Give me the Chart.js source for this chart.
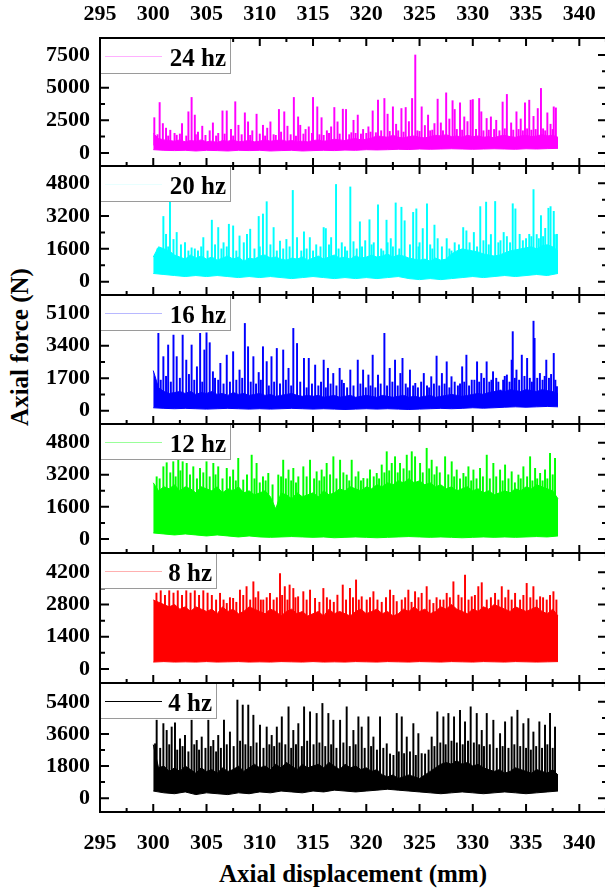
<!DOCTYPE html>
<html><head><meta charset="utf-8">
<script src="https://cdn.jsdelivr.net/npm/chart.js@4.4.1/dist/chart.umd.min.js"></script>
<style>
html,body{margin:0;padding:0;background:#fff;}
#wrap{position:relative;width:605px;height:890px;overflow:hidden;background:#fff;}
canvas{position:absolute;left:0;}
.ytitle{position:absolute;left:20px;top:347px;transform:translate(-50%,-50%) rotate(-90deg);font:bold 25px "Liberation Serif";white-space:nowrap;color:#000;}
.xtitle{position:absolute;left:353px;top:874px;transform:translate(-50%,-50%);font:bold 25px "Liberation Serif";white-space:nowrap;color:#000;}
</style></head>
<body><div id="wrap">
<div class="ytitle">Axial force (N)</div>
<div class="xtitle">Axial displacement (mm)</div>
</div>
<script>
// ---------------- DATA ----------------
const xTicks = [295, 300, 305, 310, 315, 320, 325, 330, 335, 340];
const seriesLabels = ['24 hz', '20 hz', '16 hz', '12 hz', '8 hz', '4 hz'];
const yTicks24 = [0, 2500, 5000, 7500];
const yTicks20 = [0, 1600, 3200, 4800];
const yTicks16 = [0, 1700, 3400, 5100];
const yTicks12 = [0, 1600, 3200, 4800];
const yTicks8 = [0, 1400, 2800, 4200];
const yTicks4 = [0, 1800, 3600, 5400];

// upper edge of the dense band, sampled every 0.5 mm from 300 mm
const bandTop24 = [1500,1100,1000,950,900,1000,850,950,900,1000,
 850,900,800,950,900,1000,850,900,950,850,
 900,1000,900,950,1000,900,950,850,900,850,
 950,1000,900,950,1050,1000,950,1050,1100,1000,
 1050,1150,1300,1250,1200,1350,1200,1150,1250,1300,
 1200,1150,1250,1350,1300,1400,1250,1300,1200,1350,
 1250,1300,1200,1250,1150,1300,1350,1250,1200,1300,
 1350,1250,1300,1400,1300,1350,1200];
// lower edge of the dense band, sampled every 1 mm from 300 mm
const bandBot24 = [250,200,180,200,150,200,180,150,200,180,
 200,150,180,200,150,180,200,180,220,200,
 250,230,250,280,260,300,280,300,320,300,
 280,300,320,300,280,320,300,330,350];
const peaks24 = [[300.1,2700],[300.6,3860],[300.9,2250],[301.2,1900],[301.6,1740],[302.0,1500],[302.2,1360],[302.7,2250],[303.3,3150],[303.6,4250],[303.9,2900],[304.2,1600],[304.6,2050],[305.3,1700],[305.6,2300],[306.1,1500],[306.5,3220],[306.9,3220],[307.3,1800],[307.7,3920],[308.0,2120],[308.6,3070],[308.9,2380],[309.3,1700],[309.7,2970],[310.3,2120],[310.7,1900],[311.0,2380],[311.8,3330],[312.0,1600],[312.3,3150],[312.6,2050],[313.2,4250],[313.6,2760],[313.8,2120],[314.3,1800],[314.6,2000],[315.0,4250],[315.4,3530],[315.8,2700],[316.3,1700],[316.7,2000],[317.0,3480],[317.3,2380],[317.8,3350],[318.1,3330],[318.8,2500],[319.2,2900],[319.7,1800],[320.2,2000],[320.6,3220],[321.1,4040],[321.7,4170],[322.0,2970],[322.5,3530],[322.8,2200],[323.3,3400],[323.7,3480],[324.0,2400],[324.3,4170],[324.6,7500],[325.2,3530],[325.5,2100],[325.8,2900],[326.4,2250],[326.7,4120],[327.0,2300],[327.5,4600],[327.8,2600],[328.1,4000],[328.3,3330],[328.8,3840],[329.2,2760],[329.5,2400],[329.8,4040],[330.0,4090],[330.6,4170],[330.8,3150],[331.3,2640],[331.7,2760],[332.2,2500],[332.8,3900],[333.2,4480],[333.6,2300],[334.1,3150],[334.5,2600],[334.9,3840],[335.3,4040],[335.7,2800],[336.1,3400],[336.4,4940],[337.0,3070],[337.3,2200],[337.6,3530],[337.8,3450],
 [300.4,1400],[301.4,1300],[302.5,1450],[303.1,1300],[304.0,1400],[304.9,1350],[305.9,1300],[306.7,1450],[307.5,1300],[308.3,1400],[309.1,1350],[310.0,1450],[310.5,1300],[311.3,1400],[311.5,1350],[312.9,1400],[313.4,1300],[314.1,1450],[314.9,1500],[315.6,1400],[316.0,1350],[316.5,1500],[317.5,1450],[318.4,1400],[318.6,1550],[319.0,1500],[319.5,1450],[320.0,1500],[320.4,1600],[320.9,1550],[321.4,1700],[322.2,1650],[323.0,1700],[323.5,1600],[324.8,1700],[325.0,1650],[326.0,1700],[326.2,1750],[327.2,1700],[328.5,1800],[329.0,1750],[330.3,1800],[331.0,1700],[331.5,1750],[332.0,1800],[332.5,1700],[333.0,1850],[333.8,1750],[334.3,1800],[334.7,1700],[335.1,1850],[335.5,1750],[335.9,1800],[336.6,1850],[336.8,1700],[337.5,1800]];

const bandTop20 = [1200,1700,1600,1500,1300,1200,1100,1300,1150,1250,
 1100,1200,1050,1150,1250,1100,1200,1000,1150,1100,
 1250,1300,1150,1200,1100,1050,1150,1100,1200,1050,
 1150,1250,1100,1200,1300,1150,1200,1100,1250,1150,
 1200,1300,1200,1250,1350,1200,1300,1250,1150,1100,
 1050,1100,1000,1150,1050,1100,1350,1500,1600,1550,
 1500,1450,1350,1300,1250,1300,1400,1500,1550,1600,
 1650,1700,1600,1750,1800,1700,1500];
const bandBot20 = [400,350,300,250,300,250,300,250,200,250,
 200,250,200,150,200,250,200,150,200,150,
 200,150,200,250,150,100,150,100,150,200,
 250,200,250,300,250,300,350,300,400];
const peaks20 = [[300.95,3180],[301.2,2310],[301.57,3900],[301.9,2060],[302.2,2400],[302.98,1900],[303.6,1650],[304.2,1500],[304.7,2150],[305.5,3000],[306.1,2640],[306.6,1900],[307.1,2800],[307.5,2720],[308.1,2230],[308.8,2310],[309.1,2560],[309.9,3180],[310.3,3300],[310.65,3900],[311.3,2640],[311.9,1980],[312.5,2060],[313.1,4450],[313.5,2150],[314.15,2430],[314.7,2150],[315.3,1800],[316.0,2640],[316.2,2590],[316.7,2150],[317.16,4740],[317.7,1900],[318.5,4620],[318.8,1950],[319.4,2920],[319.9,2000],[320.3,3020],[320.7,1900],[321.1,3750],[321.9,3000],[322.3,2100],[322.76,3840],[323.3,3630],[323.6,2970],[324.4,3380],[324.7,3550],[325.3,2590],[325.7,3800],[326.4,2760],[326.7,2100],[327.55,2100],[328.3,1900],[329.1,2640],[329.4,2480],[330.1,2400],[330.7,3660],[331.25,3880],[331.7,2300],[332.1,3910],[332.9,2400],[333.75,3800],[334.0,3550],[334.4,2310],[335.3,2310],[335.7,4490],[336.4,3220],[336.8,2600],[337.1,3580],[337.3,3660],[337.6,3430],[337.9,2310],
 [300.4,1600],[301.4,1700],[302.6,1800],[303.3,1500],[303.9,1600],[304.5,1700],[305.1,1500],[305.8,1800],[306.4,1600],[306.9,1700],[307.8,1500],[308.5,1900],[309.5,1600],[310.0,1700],[311.0,1800],[311.6,1500],[312.2,1600],[312.8,1700],[313.9,1500],[314.4,1600],[315.0,1500],[315.7,1700],[316.5,1800],[317.4,1600],[318.0,1700],[318.2,1500],[319.1,1600],[319.6,1700],[320.5,1800],[321.4,1600],[321.6,1500],[322.0,1900],[322.5,1700],[323.1,1600],[324.1,1800],[324.9,1700],[325.0,1900],[326.0,1800],[326.2,1600],[327.1,1700],[327.8,1600],[328.0,1500],[328.7,1800],[329.7,1900],[330.4,1700],[331.0,2000],[331.5,1800],[332.4,1900],[332.6,2000],[333.2,2200],[333.5,1900],[334.7,2000],[335.0,2100],[335.5,2200],[336.0,2300],[336.2,2100],[336.6,2200],[337.7,2300]];

const bandTop16 = [2100,1200,1000,900,950,1000,900,1000,850,950,
 900,1000,850,900,800,950,850,900,800,850,
 900,800,850,750,800,850,900,800,750,800,
 750,800,700,750,800,700,750,800,700,750,
 800,750,700,800,750,700,750,800,700,750,
 700,750,800,700,750,800,850,800,750,800,
 850,900,850,950,1000,1050,1000,1100,1050,1000,
 1100,1050,1000,1100,1050,1000,900];
const bandBot16 = [150,120,100,120,100,80,100,120,100,80,
 100,80,100,120,100,80,100,80,60,80,
 100,80,100,80,60,80,100,120,100,120,
 150,130,150,180,200,180,200,220,200];
const peaks16 = [[300.48,4050],[300.95,2830],[301.4,3440],[301.9,3960],[302.2,2830],[302.76,3960],[303.1,2650],[303.6,3440],[304.1,2300],[304.4,4050],[304.8,3180],[305.0,4080],[305.3,3560],[305.6,2040],[306.3,2480],[306.9,2910],[307.5,3090],[308.1,2130],[308.6,4570],[308.9,3350],[309.4,2830],[309.9,2000],[310.3,3350],[310.65,2570],[311.1,2830],[311.6,3260],[312.2,3180],[312.7,2220],[313.15,4310],[313.5,3520],[314.15,2740],[314.6,2740],[315.2,2390],[316.0,2650],[316.4,2220],[316.9,1950],[317.5,2220],[317.9,1430],[318.5,2130],[319.2,2650],[319.7,2130],[320.2,1870],[320.6,2910],[321.1,1870],[321.7,4050],[322.2,2220],[322.7,2650],[323.2,1950],[323.4,2740],[324.1,2130],[324.6,1430],[325.4,1950],[326.1,1780],[326.6,2860],[327.1,1950],[327.55,2560],[328.0,1780],[329.0,2300],[329.4,2910],[329.9,1600],[330.4,2560],[330.8,1950],[331.3,2560],[331.9,2040],[332.6,1080],[333.2,1870],[333.65,2650],[333.75,4140],[334.1,2130],[334.6,2910],[335.1,2740],[335.7,4690],[335.8,3790],[336.3,1950],[336.9,2650],[337.6,3000],[337.9,1260],
 [300.7,1600],[301.2,1800],[301.65,1500],[302.5,1700],[303.35,1900],[303.85,1600],[304.6,1500],[305.8,1700],[306.1,1600],[306.6,1400],[307.2,1500],[307.8,1600],[308.35,1700],[309.15,1500],[309.65,1400],[310.1,1600],[310.85,1300],[311.35,1500],[311.9,1400],[312.45,1600],[312.95,1300],[313.8,1500],[314.4,1200],[314.9,1400],[315.5,1300],[315.75,1500],[316.2,1200],[316.65,1400],[317.2,1300],[317.7,1600],[318.2,1200],[318.8,1300],[319.45,1400],[319.95,1200],[320.4,1300],[320.85,1200],[321.35,1400],[321.95,1300],[322.45,1500],[322.95,1300],[323.7,1400],[323.9,1200],[324.4,1300],[324.85,1200],[325.15,1500],[325.7,1300],[325.9,1200],[326.35,1400],[326.85,1300],[327.35,1400],[327.8,1200],[328.3,1500],[328.6,1300],[328.8,1400],[329.2,1500],[329.65,1300],[330.15,1600],[330.6,1500],[331.05,1700],[331.55,1500],[331.75,1600],[332.2,1700],[332.4,1500],[332.85,1600],[333.0,1800],[333.45,1500],[333.95,1700],[334.35,1600],[334.85,1800],[335.35,1700],[335.55,1500],[336.05,1700],[336.55,1600],[336.75,1800],[337.15,1700],[337.35,1900],[337.75,1600]];

const bandTop12 = [2800,2400,2600,2500,2700,2400,2600,2500,2300,2600,
 2500,2400,2600,2300,2500,2400,2600,2300,2400,2200,
 2300,2400,2100,1500,2300,2200,2000,2300,2100,2200,
 2300,2100,2400,2200,2300,2500,2400,2600,2500,2400,
 2600,2500,2700,2600,2800,2700,2900,2800,3000,2800,
 2900,2700,2800,2600,2700,2500,2600,2400,2500,2600,
 2400,2500,2300,2400,2200,2300,2400,2300,2500,2400,
 2600,2500,2700,2600,2500,2400,2000];
const bandBot12 = [300,250,200,250,200,150,200,150,100,150,
 100,80,100,120,100,80,100,60,80,100,
 80,60,80,100,120,100,80,100,80,60,
 80,100,80,100,80,100,120,100,150];
const peaks12 = [[300.32,3100],[300.95,3600],[301.26,3800],[301.88,3850],[302.35,3930],[302.76,3850],[303.14,3770],[303.76,3600],[304.39,3520],[305.0,3850],[305.64,3770],[306.1,3600],[306.9,3520],[307.5,3440],[307.98,4020],[308.45,2940],[309.24,4180],[309.7,3770],[310.3,3100],[310.8,3270],[311.74,3190],[312.2,3930],[312.7,3440],[313.15,3520],[313.62,3100],[314.09,3600],[314.72,3930],[315.34,3350],[315.81,3440],[316.28,3770],[316.91,4100],[317.54,3930],[318.16,3190],[318.63,3930],[319.26,3350],[319.73,3020],[320.35,3440],[320.98,3270],[321.45,3690],[321.92,4350],[322.39,3770],[322.7,4100],[323.17,3770],[323.8,4180],[324.27,4350],[324.58,4100],[325.05,3770],[325.67,4520],[326.14,3930],[326.61,3600],[327.4,4100],[328.02,3850],[328.49,3440],[329.12,3270],[329.59,3600],[330.06,3440],[330.68,3520],[331.31,4180],[331.93,3770],[332.56,3440],[333.03,3690],[333.65,3350],[334.28,3190],[334.75,3600],[335.38,4100],[335.85,3520],[336.32,3270],[336.78,3440],[337.25,4270],[337.72,4020],
 [300.6,3000],[301.6,3300],[302.1,3100],[302.55,3400],[303.45,3200],[304.1,3000],[304.7,3300],[305.3,3100],[305.85,3200],[306.5,3000],[307.2,3100],[307.75,2900],[308.8,3200],[309.5,3000],[310.0,2800],[310.55,2900],[311.2,2700],[312.0,3100],[312.45,3000],[312.95,2900],[313.4,2800],[314.4,3100],[315.1,3000],[315.6,2900],[316.05,3100],[316.6,3200],[317.2,3000],[317.85,3300],[318.4,2900],[319.0,3100],[319.5,2900],[320.1,3000],[320.7,3100],[321.2,3000],[321.7,3300],[322.15,3400],[322.95,3300],[323.5,3500],[324.05,3400],[325.3,3300],[325.9,3500],[326.4,3200],[326.9,3300],[327.7,3200],[328.25,3100],[328.8,3000],[329.35,3100],[329.85,2900],[330.35,3000],[330.95,3100],[331.6,3000],[332.2,3100],[332.8,2900],[333.35,3000],[333.95,2800],[334.5,3000],[335.1,3100],[335.6,2900],[336.05,3000],[336.55,2900],[337.0,3000],[337.5,3200]];

const bandTop8 = [3000,2900,2800,2700,2800,2600,2700,2500,2700,2600,
 2500,2600,2400,2700,2500,2600,2400,2500,2700,2600,
 2500,2400,2600,2500,2300,2500,2600,2400,2500,2300,
 2400,2500,2300,2600,2400,2500,2400,2300,2500,2600,
 2400,2500,2600,2400,2500,2300,2400,2600,2500,2700,
 2500,2600,2400,2500,2700,2600,2800,2600,2500,2400,
 2600,2500,2700,2600,2800,2700,2600,2500,2700,2600,
 2500,2600,2700,2500,2400,2600,2300];
const bandBot8 = [300,320,300,310,300,320,300,310,320,300,
 310,300,320,310,300,320,300,310,300,320,
 310,300,320,310,300,320,310,300,320,310,
 300,320,310,300,320,310,300,310,320];
const peaks8 = [[300.3,3300],[300.7,3400],[301.1,3200],[301.5,3400],[301.9,3300],[302.3,3400],[302.7,3200],[303.1,3400],[303.5,3300],[303.9,3400],[304.3,3200],[304.7,3400],[305.1,3300],[305.5,3200],[305.9,3000],
 [306.27,3290],[306.9,2850],[307.5,3070],[308.14,3430],[308.76,3580],[309.4,3790],[309.86,3360],[310.33,3000],[310.96,3290],[311.9,4150],[312.35,3580],[312.8,3650],[313.15,3500],[313.6,3140],
 [314.09,3360],[314.72,3430],[315.19,3070],[315.97,3500],[316.6,3000],[317.29,3210],[317.79,3650],[318.47,3500],[319.04,3870],[319.57,3140],[320.04,3000],[320.67,3360],[321.45,2900],[322.23,3430],[322.86,2930],[323.33,3000],[323.95,3430],[324.58,3360],[325.2,3290],[325.67,3580],[326.3,2850],[326.93,3000],[327.55,3290],[328.18,3790],[328.65,3210],[329.27,4080],[329.9,3140],[330.52,3580],[330.84,3750],[331.31,3000],[332.09,3290],[332.72,3580],[333.34,3430],[333.97,3290],[334.44,3000],[335.06,3720],[335.69,3580],[336.32,3140],[336.94,3000],[337.57,3360],
 [314.4,3000],[315.6,2900],[316.3,3100],[316.95,2900],[318.1,3000],[318.75,3100],[319.3,3000],[320.35,3100],[321.05,3000],[321.85,3100],[322.55,3200],[323.65,3100],[324.25,2900],[324.9,3100],[325.95,3000],[326.6,3100],[327.25,3000],[327.85,3100],[328.95,3100],[329.6,3000],[330.2,3200],[331.7,3100],[332.4,3000],[333.05,3100],[333.65,3000],[334.75,3200],[335.4,3100],[336.0,3000],[336.6,3100],[337.25,3200],[337.85,3000],
 [306.6,3000],[307.2,3100],[307.8,2900],[308.45,3200],[309.1,3000],[309.6,3100],[310.1,3000],[310.65,3100],[311.3,3000],[311.6,3100],[312.1,3200],[312.6,3000],[313.35,3100]];

const bandTop4 = [3000,1700,1800,1500,1700,1500,1800,1600,1400,1700,
 1500,1600,1400,1700,1500,1600,1800,1500,1700,1900,
 1700,1800,1600,1900,1700,2000,1800,1600,1900,1700,
 1800,1900,1700,2000,1800,1600,1900,1700,1800,1600,
 1700,1500,1600,1300,1200,1300,1100,1200,1300,1200,
 1100,1300,1500,1700,1900,2000,1900,2100,1900,2000,
 1800,1900,1700,1600,1500,1600,1400,1500,1700,1600,
 1500,1400,1600,1500,1400,1600,1300];
const bandBot4 = [400,300,250,350,200,300,250,200,300,250,
 350,300,400,350,300,400,350,450,400,350,
 400,450,500,450,400,350,300,250,300,350,
 300,250,300,350,300,250,300,350,400];
const peaks4 = [[300.17,3050],[300.32,4370],[300.95,4180],[301.26,3800],[301.73,3990],[302.04,4220],[302.51,3330],[302.98,3520],[303.6,4370],[304.08,3240],[304.55,3430],[305.17,4370],[305.64,3240],[306.1,3520],[306.64,4370],[307.2,3710],[307.9,5500],[308.4,5220],[308.92,5220],[309.4,4650],[310.02,4090],[310.65,3990],[311.12,3520],[311.6,3990],[312.07,4560],[312.7,5120],[313.15,3800],[313.62,4180],
 [314.16,5120],[314.72,4840],[315.34,4750],[315.88,5310],[316.44,4750],[316.91,4370],[317.54,4370],[318.16,5120],[318.79,3800],[319.26,4560],[319.57,3990],[320.2,4560],[320.67,3430],[321.29,4560],[321.92,3050],[322.23,2480],[322.86,4750],[323.33,4560],[323.8,3430],[324.42,4180],[324.89,3620],[325.52,2480],[326.14,3430],[326.67,4840],[327.24,4560],[327.71,4750],[328.24,4560],[328.8,4930],[329.27,4280],[329.8,5120],[330.37,4750],[330.84,3800],[331.31,4750],[331.93,4370],[332.56,3620],[333.03,4280],[333.65,4560],[334.19,4930],[334.75,4180],[335.22,4460],[335.69,3710],[336.25,4280],[336.78,4090],[337.25,4750],[337.72,3990],
 [300.65,2800],[301.5,3000],[302.25,2700],[302.75,2900],[303.3,2600],[303.85,3000],[304.3,2700],[304.9,2800],[305.4,2900],[305.9,2600],[306.35,2800],[306.9,3000],[307.55,2900],[308.15,3200],[308.65,3000],[309.15,2900],[309.7,3100],[310.35,2800],[310.9,3000],[311.35,2900],[311.85,3100],[312.4,3000],[312.95,2800],[313.4,3000],[313.95,2900],[314.45,3200],[315.05,3000],[315.6,3100],[316.15,2900],[316.7,3000],[317.2,2800],[317.85,3100],[318.45,2900],[319.0,3000],[319.85,2800],[320.45,2900],[321.0,2700],[321.6,2800],[322.55,2400],[323.05,2600],[323.55,2500],[324.1,2600],[324.65,2400],[325.2,2500],[325.85,2700],[326.4,2900],[326.95,3100],[327.45,3000],[328.0,3200],[328.5,3100],[329.05,3000],[329.55,3200],[330.1,3100],[330.6,3000],[331.05,2900],[331.6,3000],[332.25,2800],[332.8,2900],[333.35,2800],[333.9,3000],[334.45,2900],[335.0,2800],[335.45,2700],[335.95,2900],[336.5,2800],[337.0,3000],[337.5,2800]];

// ---------------- LAYOUT / STYLE ----------------
const X_MIN = 295, X_MAX = 342.6;
const BAND_START = 300, TOP_STEP = 0.5, BOT_STEP = 1;
const FONT = '"Liberation Serif", "Times New Roman", serif';

const panels = [
  {label: seriesLabels[0], color:'#ff00ff', legendLine:'#ffb0ff', top:bandTop24, bot:bandBot24, peaks:peaks24, base:600,  yMin:-1000, yMax:8800, yTicks:yTicks24, T:38,  B:166, boxW:131},
  {label: seriesLabels[1], color:'#00ffff', legendLine:'#e8ffff', top:bandTop20, bot:bandBot20, peaks:peaks20, base:700,  yMin:-650,  yMax:5640, yTicks:yTicks20, T:166, B:295, boxW:131},
  {label: seriesLabels[2], color:'#0000ff', legendLine:'#b8b8ff', top:bandTop16, bot:bandBot16, peaks:peaks16, base:400,  yMin:-700,  yMax:6060, yTicks:yTicks16, T:295, B:424, boxW:131},
  {label: seriesLabels[3], color:'#00ff00', legendLine:'#99ff99', top:bandTop12, bot:bandBot12, peaks:peaks12, base:1500, yMin:-700,  yMax:5730, yTicks:yTicks12, T:424, B:553, boxW:131},
  {label: seriesLabels[4], color:'#ff0000', legendLine:'#ffb0b0', top:bandTop8,  bot:bandBot8,  peaks:peaks8,  base:1500, yMin:-610,  yMax:5040, yTicks:yTicks8,  T:553, B:683, boxW:117},
  {label: seriesLabels[5], color:'#000000', legendLine:'#000000', top:bandTop4,  bot:bandBot4,  peaks:peaks4,  base:1000, yMin:-775,  yMax:6455, yTicks:yTicks4,  T:683, B:812, boxW:117}
];

const framePlugin = {
  id: 'frame',
  afterDatasetsDraw(chart) {
    const o = chart.options.plugins.frame;
    const ctx = chart.ctx, a = chart.chartArea;
    const xs = chart.scales.x, ys = chart.scales.y;
    ctx.save();
    ctx.strokeStyle = '#000';
    ctx.lineWidth = 2;
    ctx.beginPath();
    const xStep = xTicks[1] - xTicks[0];
    const tickX = (v, len) => {
      const p = xs.getPixelForValue(v);
      if (p < a.left + 1 || p > a.right - 1) return;
      ctx.moveTo(p, a.top); ctx.lineTo(p, a.top + len);
      ctx.moveTo(p, a.bottom); ctx.lineTo(p, a.bottom - len);
    };
    xTicks.forEach(v => { tickX(v, 8); tickX(v + xStep / 2, 4); });
    const yt = o.yTicks, yStep = yt[1] - yt[0];
    const tickY = (v, len) => {
      const p = ys.getPixelForValue(v);
      if (p < a.top + 1 || p > a.bottom - 1) return;
      ctx.moveTo(a.left, p); ctx.lineTo(a.left + len, p);
      ctx.moveTo(a.right, p); ctx.lineTo(a.right - len, p);
    };
    yt.forEach((v, i) => { tickY(v, 9); if (i < yt.length - 1) tickY(v + yStep / 2, 5); });
    ctx.stroke();
    // legend box
    const bx = a.left, by = a.top, bw = o.boxW, bh = 36;
    ctx.fillStyle = '#fff';
    ctx.fillRect(bx, by, bw, bh);
    ctx.lineWidth = 1;
    ctx.strokeStyle = '#9a9a9a';
    ctx.strokeRect(bx + 0.5, by + 0.5, bw - 1, bh - 1);
    ctx.strokeStyle = o.legendLine;
    ctx.beginPath();
    ctx.moveTo(bx + 5, by + 18.5); ctx.lineTo(bx + 62, by + 18.5);
    ctx.stroke();
    ctx.fillStyle = '#000';
    ctx.font = 'bold 25px ' + FONT;
    ctx.textAlign = 'right';
    ctx.textBaseline = 'alphabetic';
    ctx.fillText(o.label, bx + bw - 5, by + 28);
    // frame
    ctx.strokeStyle = '#000';
    ctx.lineWidth = 2;
    ctx.strokeRect(a.left, a.top, a.right - a.left, a.bottom - a.top);
    ctx.restore();
  }
};

const wrap = document.getElementById('wrap');
panels.forEach((p, idx) => {
  const first = idx === 0, last = idx === panels.length - 1;
  const cTop = first ? 0 : p.T - 4;
  const cBottom = last ? 862 : p.B + 4;
  const canvas = document.createElement('canvas');
  canvas.width = 610;
  canvas.height = cBottom - cTop;
  canvas.style.top = cTop + 'px';
  wrap.appendChild(canvas);

  const topPts = p.top.map((v, i) => ({x: BAND_START + i * TOP_STEP, y: v}));
  const botPts = p.bot.map((v, i) => ({x: BAND_START + i * BOT_STEP, y: v}));
  const peakPts = p.peaks.map(d => ({x: d[0], y: d[1]}));

  const tickFont = {family: FONT, size: 22, weight: 'bold'};
  const noPadH = s => { s.paddingLeft = 0; s.paddingRight = 0; };
  const scales = {
    x: {
      type: 'linear', position: 'bottom', min: X_MIN, max: X_MAX, offset: false,
      grid: {display: false, drawTicks: false}, border: {display: false},
      ticks: {display: last, font: tickFont, color: '#000', padding: 18, maxRotation: 0, autoSkip: false, callback: v => String(v)},
      afterBuildTicks: s => { s.ticks = xTicks.map(v => ({value: v})); },
      afterFit: s => { s.height = last ? 50 : 0; noPadH(s); }
    },
    y: {
      type: 'linear', position: 'left', min: p.yMin, max: p.yMax,
      grid: {display: false, drawTicks: false}, border: {display: false},
      ticks: {font: tickFont, color: '#000', padding: 10, autoSkip: false, callback: v => String(v)},
      afterBuildTicks: s => { s.ticks = p.yTicks.map(v => ({value: v})); },
      afterFit: s => { s.width = 100; s.paddingTop = 0; s.paddingBottom = 0; }
    }
  };
  if (first) {
    scales.x2 = {
      type: 'linear', position: 'top', min: X_MIN, max: X_MAX, offset: false,
      grid: {display: false, drawTicks: false}, border: {display: false},
      ticks: {font: tickFont, color: '#000', padding: 10, maxRotation: 0, autoSkip: false, callback: v => String(v)},
      afterBuildTicks: s => { s.ticks = xTicks.map(v => ({value: v})); },
      afterFit: s => { s.height = 34; noPadH(s); }
    };
  }

  new Chart(canvas.getContext('2d'), {
    type: 'line',
    data: {
      datasets: [
        {type: 'line', data: botPts, borderColor: p.color, borderWidth: 1, pointRadius: 0, fill: false, tension: 0},
        {type: 'line', data: topPts, borderColor: p.color, backgroundColor: p.color, borderWidth: 1, pointRadius: 0, fill: '-1', tension: 0},
        {type: 'bar', data: peakPts, backgroundColor: p.color, borderWidth: 0, barThickness: 1.3, base: p.base, grouped: false}
      ]
    },
    options: {
      responsive: false, animation: false, events: [],
      layout: {padding: {top: 4, bottom: last ? 0 : 4, left: 0, right: 3}},
      plugins: {
        legend: {display: false}, tooltip: {enabled: false},
        frame: {yTicks: p.yTicks, boxW: p.boxW, label: p.label, legendLine: p.legendLine}
      },
      scales
    },
    plugins: [framePlugin]
  });
});
</script>
</body></html>
